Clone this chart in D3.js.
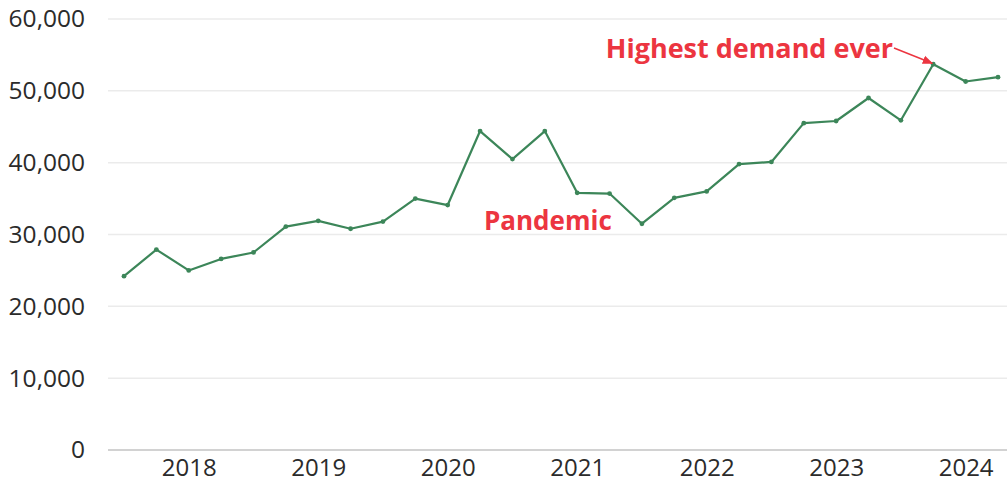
<!DOCTYPE html>
<html>
<head>
<meta charset="utf-8">
<script src="https://cdn.jsdelivr.net/npm/d3@7"></script>
<style>
  body { margin: 0; background: #fff; }
  svg text { font-family: "Open Sans", sans-serif; }
</style>
</head>
<body>
<div id="chart"></div>
<script>
// quarterly demand, 2017 Q3 .. 2024 Q2
let quarters = [
  '2017Q3', '2017Q4',
  '2018Q1', '2018Q2', '2018Q3', '2018Q4',
  '2019Q1', '2019Q2', '2019Q3', '2019Q4',
  '2020Q1', '2020Q2', '2020Q3', '2020Q4',
  '2021Q1', '2021Q2', '2021Q3', '2021Q4',
  '2022Q1', '2022Q2', '2022Q3', '2022Q4',
  '2023Q1', '2023Q2', '2023Q3', '2023Q4',
  '2024Q1', '2024Q2'
];
let demand = [
  24200, 27900,
  25000, 26600, 27500, 31100,
  31900, 30800, 31800, 35000,
  34100, 44400, 40500, 44400,
  35800, 35700, 31500, 35100,
  36000, 39800, 40100, 45500,
  45800, 49000, 45900, 53700,
  51300, 51900
];
let yearTicks = [2018, 2019, 2020, 2021, 2022, 2023, 2024];
let yTicks = [0, 10000, 20000, 30000, 40000, 50000, 60000];

let width = 1007, height = 487;
let margin = {top: 19, right: 9, bottom: 37, left: 108};

let svg = d3.select('#chart').append('svg').attr('width', width).attr('height', height);

let toYear = q => +q.slice(0, 4) + (+q.slice(5) - 1) / 4;
let data = quarters.map((q, i) => ({t: toYear(q), v: demand[i]}));

let x = d3.scaleLinear().domain([2017.5, 2024.25]).range([124, 998]);
let y = d3.scaleLinear().domain([0, 60000]).range([height - margin.bottom, margin.top]);

// grid
svg.append('g').selectAll('line').data(yTicks).enter().append('line')
  .attr('x1', margin.left).attr('x2', width)
  .attr('y1', d => y(d)).attr('y2', d => y(d))
  .attr('stroke', d => d == 0 ? '#d2d2d2' : '#ebebeb')
  .attr('stroke-width', d => d == 0 ? 2 : 1.5);

// y labels
let yAxis = d3.axisLeft(y).tickValues(yTicks).tickSize(0).tickPadding(0)
  .tickFormat(d3.format(','));
svg.append('g').attr('transform', 'translate(85,0)').call(yAxis)
  .call(g => g.select('.domain').remove())
  .selectAll('text')
  .attr('font-size', 24.5).attr('fill', '#2b2b2b')
  .attr('font-family', '"Open Sans", sans-serif');

// x labels
let xAxis = d3.axisBottom(x).tickValues(yearTicks).tickSize(0).tickPadding(0)
  .tickFormat(d3.format('d'));
svg.append('g').attr('transform', 'translate(0,' + (height - margin.bottom + 9) + ')').call(xAxis)
  .call(g => g.select('.domain').remove())
  .selectAll('text')
  .attr('font-size', 24).attr('fill', '#2b2b2b')
  .attr('font-family', '"Open Sans", sans-serif');

// line
let line = d3.line().x(d => x(d.t)).y(d => y(d.v));
svg.append('path').datum(data)
  .attr('d', line).attr('fill', 'none')
  .attr('stroke', '#3c8659').attr('stroke-width', 2.2)
  .attr('stroke-linejoin', 'round');

svg.append('g').selectAll('circle').data(data).enter().append('circle')
  .attr('cx', d => x(d.t)).attr('cy', d => y(d.v)).attr('r', 2.4)
  .attr('fill', '#3c8659');

// annotations
let red = '#ec3540';
svg.append('defs').append('marker')
  .attr('id', 'arrow').attr('viewBox', '0 0 10 10')
  .attr('refX', 9).attr('refY', 5)
  .attr('markerWidth', 7).attr('markerHeight', 7)
  .attr('orient', 'auto')
  .append('path').attr('d', 'M0,1 L10,5 L0,9 Z').attr('fill', red);

let peak = data[25];
svg.append('line')
  .attr('x1', 894).attr('y1', 48)
  .attr('x2', x(peak.t) - 1).attr('y2', y(peak.v) - 1)
  .attr('stroke', red).attr('stroke-width', 1.5)
  .attr('marker-end', 'url(#arrow)');

svg.append('text').attr('x', 893).attr('y', 58)
  .attr('text-anchor', 'end').attr('font-size', 27).attr('font-weight', 700)
  .attr('fill', red).text('Highest demand ever');

svg.append('text').attr('x', 484).attr('y', 230)
  .attr('font-size', 26).attr('font-weight', 700)
  .attr('fill', red).text('Pandemic');
</script>
</body>
</html>
